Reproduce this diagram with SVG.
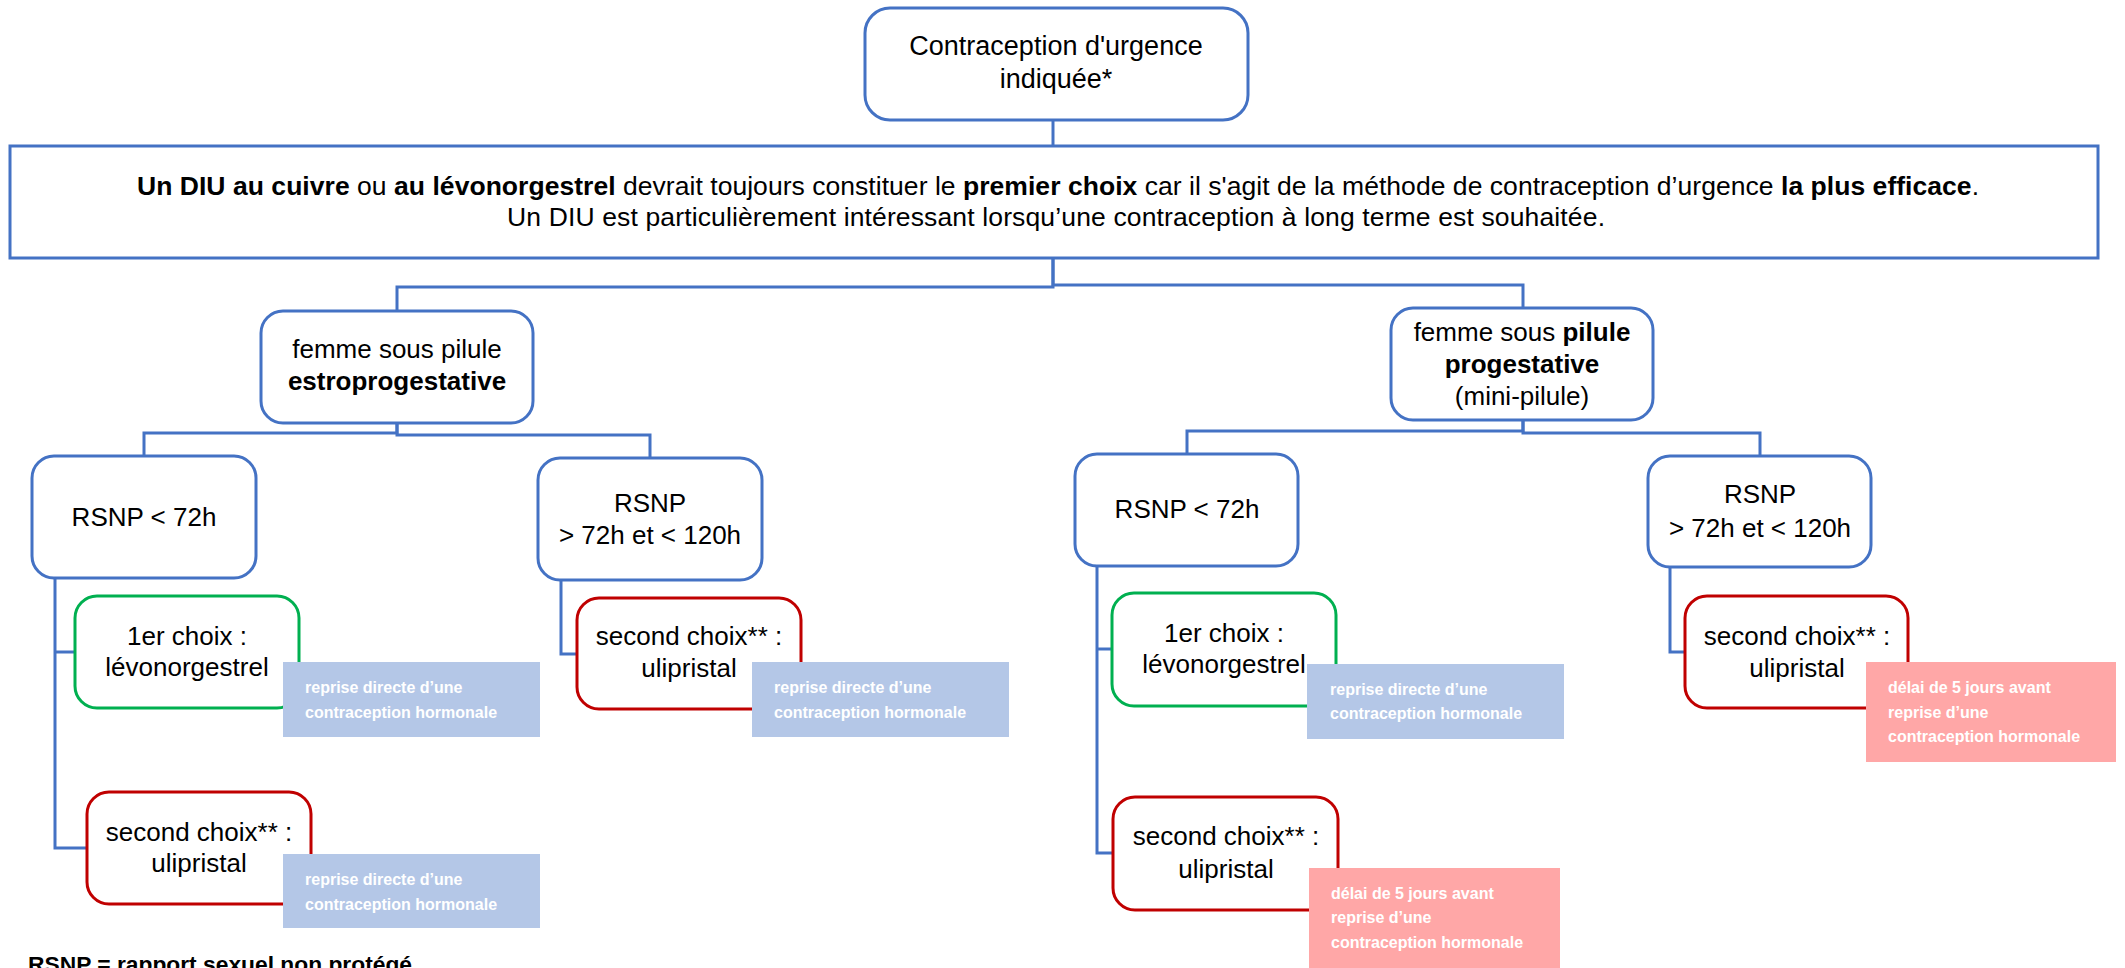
<svg xmlns="http://www.w3.org/2000/svg" width="2125" height="968" viewBox="0 0 2125 968">
<style>
  text { font-family: "Liberation Sans", Arial, sans-serif; fill: #000; }
  .t { font-size: 26px; text-anchor: middle; }
  .b { font-weight: bold; }
  .main { font-size: 26.5px; text-anchor: middle; }
  .node { fill: #fff; stroke: #4472C4; stroke-width: 3; }
  .green { fill: #fff; stroke: #00B050; stroke-width: 3; }
  .red { fill: #fff; stroke: #C00000; stroke-width: 3; }
  .conn { fill: none; stroke: #4472C4; stroke-width: 3; }
  .nblue { fill: #B4C7E7; }
  .npink { fill: #FFA7A7; }
  .nt { font-size: 16px; font-weight: bold; fill: #fff; }
</style>
<rect width="2125" height="968" fill="#fff"/>

<g id="connectors">
  <path class="conn" d="M1053 120 V146"/>
  <path class="conn" d="M1053 258 V287 H397 V311"/>
  <path class="conn" d="M1053 258 V285 H1523 V308"/>
  <path class="conn" d="M397 423 V433 H144 V456"/>
  <path class="conn" d="M397 423 V435 H650 V458"/>
  <path class="conn" d="M1523 420 V431 H1187 V454"/>
  <path class="conn" d="M1523 420 V433 H1760 V456"/>
  <path class="conn" d="M55 578 V848 H87"/>
  <path class="conn" d="M55 652 H75"/>
  <path class="conn" d="M561 580 V654 H577"/>
  <path class="conn" d="M1097 566 V853 H1113"/>
  <path class="conn" d="M1097 649 H1112"/>
  <path class="conn" d="M1670 567 V652 H1685"/>
</g>

<g id="n-top">
  <rect class="node" x="865" y="8" width="383" height="112" rx="25"/>
  <text class="t" x="1056" y="55" style="font-size:27px">Contraception d'urgence</text>
  <text class="t" x="1056" y="88" style="font-size:27px">indiquée*</text>
</g>

<g id="n-diu">
  <rect x="10" y="146" width="2088" height="112" fill="#fff" stroke="#4472C4" stroke-width="3"/>
  <text class="main" x="1058" y="195" textLength="1842"><tspan class="b">Un DIU au cuivre</tspan> ou <tspan class="b">au lévonorgestrel</tspan> devrait toujours constituer le <tspan class="b">premier choix</tspan> car il s'agit de la méthode de contraception d’urgence <tspan class="b">la plus efficace</tspan>.</text>
  <text class="main" x="1056" y="226" textLength="1098">Un DIU est particulièrement intéressant lorsqu’une contraception à long terme est souhaitée.</text>
</g>

<g id="n-estro">
  <rect class="node" x="261" y="311" width="272" height="112" rx="22"/>
  <text class="t" x="397" y="358">femme sous pilule</text>
  <text class="t b" x="397" y="390">estroprogestative</text>
</g>

<g id="n-progest">
  <rect class="node" x="1391" y="308" width="262" height="112" rx="22"/>
  <text class="t" x="1522" y="341">femme sous <tspan class="b">pilule</tspan></text>
  <text class="t b" x="1522" y="373">progestative</text>
  <text class="t" x="1522" y="405">(mini-pilule)</text>
</g>

<g id="n-c1">
  <rect class="node" x="32" y="456" width="224" height="122" rx="22"/>
  <text class="t" x="144" y="526">RSNP &lt; 72h</text>
</g>

<g id="n-c2">
  <rect class="node" x="538" y="458" width="224" height="122" rx="22"/>
  <text class="t" x="650" y="512">RSNP</text>
  <text class="t" x="650" y="544">&gt; 72h et &lt; 120h</text>
</g>

<g id="n-c3">
  <rect class="node" x="1075" y="454" width="223" height="112" rx="22"/>
  <text class="t" x="1187" y="518">RSNP &lt; 72h</text>
</g>

<g id="n-c4">
  <rect class="node" x="1648" y="456" width="223" height="111" rx="22"/>
  <text class="t" x="1760" y="503">RSNP</text>
  <text class="t" x="1760" y="537">&gt; 72h et &lt; 120h</text>
</g>

<g id="n-c1-lev">
  <rect class="green" x="75" y="596" width="224" height="112" rx="22"/>
  <text class="t" x="187" y="645">1er choix :</text>
  <text class="t" x="187" y="676">lévonorgestrel</text>
</g>
<g id="note-c1-lev">
  <rect class="nblue" x="283" y="662" width="257" height="75"/>
  <text class="nt" x="305" y="693">reprise directe d’une</text>
  <text class="nt" x="305" y="718">contraception hormonale</text>
</g>

<g id="n-c1-uli">
  <rect class="red" x="87" y="792" width="224" height="112" rx="22"/>
  <text class="t" x="199" y="841">second choix** :</text>
  <text class="t" x="199" y="872">ulipristal</text>
</g>
<g id="note-c1-uli">
  <rect class="nblue" x="283" y="854" width="257" height="74"/>
  <text class="nt" x="305" y="885">reprise directe d’une</text>
  <text class="nt" x="305" y="910">contraception hormonale</text>
</g>

<g id="n-c2-uli">
  <rect class="red" x="577" y="598" width="224" height="111" rx="22"/>
  <text class="t" x="689" y="645">second choix** :</text>
  <text class="t" x="689" y="677">ulipristal</text>
</g>
<g id="note-c2-uli">
  <rect class="nblue" x="752" y="662" width="257" height="75"/>
  <text class="nt" x="774" y="693">reprise directe d’une</text>
  <text class="nt" x="774" y="718">contraception hormonale</text>
</g>

<g id="n-c3-lev">
  <rect class="green" x="1112" y="593" width="224" height="113" rx="22"/>
  <text class="t" x="1224" y="642">1er choix :</text>
  <text class="t" x="1224" y="673">lévonorgestrel</text>
</g>
<g id="note-c3-lev">
  <rect class="nblue" x="1307" y="664" width="257" height="75"/>
  <text class="nt" x="1330" y="695">reprise directe d’une</text>
  <text class="nt" x="1330" y="719">contraception hormonale</text>
</g>

<g id="n-c3-uli">
  <rect class="red" x="1113" y="797" width="225" height="113" rx="22"/>
  <text class="t" x="1226" y="845">second choix** :</text>
  <text class="t" x="1226" y="878">ulipristal</text>
</g>
<g id="note-c3-uli">
  <rect class="npink" x="1309" y="868" width="251" height="100"/>
  <text class="nt" x="1331" y="899">délai de 5 jours avant</text>
  <text class="nt" x="1331" y="923">reprise d’une</text>
  <text class="nt" x="1331" y="948">contraception hormonale</text>
</g>

<g id="n-c4-uli">
  <rect class="red" x="1685" y="596" width="223" height="112" rx="22"/>
  <text class="t" x="1797" y="645">second choix** :</text>
  <text class="t" x="1797" y="677">ulipristal</text>
</g>
<g id="note-c4-uli">
  <rect class="npink" x="1866" y="662" width="250" height="100"/>
  <text class="nt" x="1888" y="693">délai de 5 jours avant</text>
  <text class="nt" x="1888" y="718">reprise d’une</text>
  <text class="nt" x="1888" y="742">contraception hormonale</text>
</g>

<g id="footer">
  <text class="b" x="28" y="972" style="font-size:22.8px">RSNP = rapport sexuel non protégé</text>
</g>
</svg>
